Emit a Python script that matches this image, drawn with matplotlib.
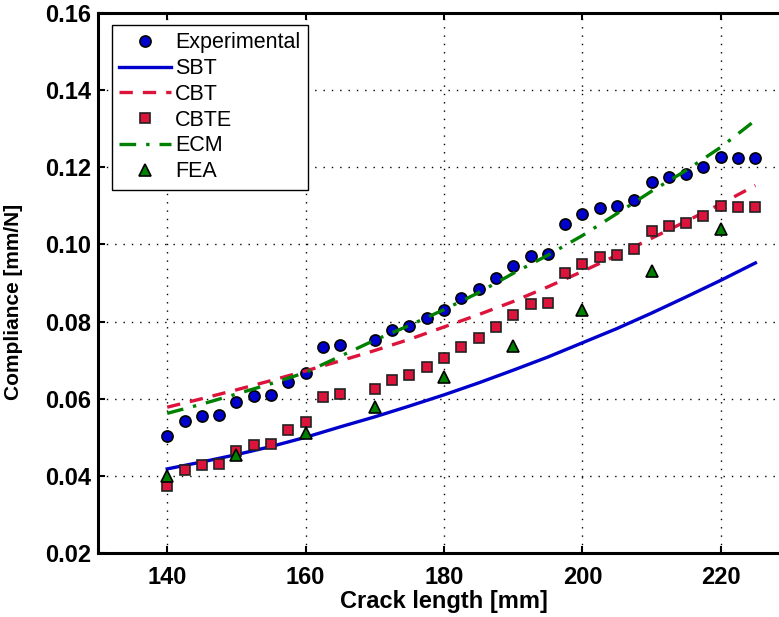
import matplotlib
matplotlib.use("Agg")
import matplotlib.pyplot as plt
import numpy as np

plt.rcParams['font.family'] = ['Liberation Sans', 'DejaVu Sans']

# Experimental / CBTE crack lengths (no point at 167.5)
meas_x = [140, 142.5, 145, 147.5, 150, 152.5, 155, 157.5, 160, 162.5, 165,
          170, 172.5, 175, 177.5, 180, 182.5, 185, 187.5, 190, 192.5, 195,
          197.5, 200, 202.5, 205, 207.5, 210, 212.5, 215, 217.5, 220, 222.5, 225]
exp_y = [0.0503, 0.0543, 0.0556, 0.0558, 0.0592, 0.0606, 0.0610, 0.0644, 0.0666,
         0.0733, 0.0740, 0.0752, 0.0777, 0.0788, 0.0809, 0.0830, 0.0861, 0.0885,
         0.0912, 0.0945, 0.0971, 0.0975, 0.1053, 0.1078, 0.1094, 0.1099, 0.1116,
         0.1162, 0.1175, 0.1182, 0.1200, 0.1227, 0.1224, 0.1224]
cbte_y = [0.0375, 0.0415, 0.0429, 0.0432, 0.0465, 0.0479, 0.0483, 0.0518, 0.0539,
          0.0604, 0.0613, 0.0624, 0.0649, 0.0662, 0.0682, 0.0705, 0.0733, 0.0758,
          0.0786, 0.0817, 0.0845, 0.0848, 0.0926, 0.0950, 0.0968, 0.0973, 0.0988,
          0.1035, 0.1048, 0.1055, 0.1073, 0.1100, 0.1096, 0.1096]

# model curves
model_x = [140, 145, 150, 155, 160, 165, 170, 175, 180, 185, 190, 195, 200,
           205, 210, 215, 220, 225]
sbt_y = [0.0418, 0.0436, 0.0455, 0.0476, 0.0500, 0.0527, 0.0553, 0.0581, 0.0610,
         0.0641, 0.0674, 0.0708, 0.0745, 0.0782, 0.0822, 0.0864, 0.0907, 0.0952]
cbt_y = [0.0578, 0.0600, 0.0623, 0.0647, 0.0672, 0.0698, 0.0725, 0.0754, 0.0786,
         0.0818, 0.0852, 0.0890, 0.0930, 0.0972, 0.1016, 0.1060, 0.1105, 0.1153]
ecm_y = [0.0562, 0.0586, 0.0612, 0.0639, 0.0668, 0.0710, 0.0752, 0.0790, 0.0831,
         0.0875, 0.0925, 0.0972, 0.1023, 0.1080, 0.1138, 0.1192, 0.1252, 0.1322]

# finite element results
fea_x = [140, 150, 160, 170, 180, 190, 200, 210, 220]
fea_y = [0.0400, 0.0455, 0.0512, 0.0578, 0.0657, 0.0736, 0.0831, 0.0931, 0.1041]

fig = plt.figure(figsize=(7.79, 6.17), dpi=100)
ax = fig.add_axes([98 / 779, 1 - 553 / 617, 692 / 779, 540 / 617])

ax.plot(meas_x, exp_y, 'o', color='#0000CC', mec='black', mew=1.2, ms=8,
        label='Experimental', zorder=3)
ax.plot(model_x, sbt_y, '-', color='#0000CC', lw=2.4, label='SBT', zorder=3)
ax.plot(model_x, cbt_y, '--', color='#DC143C', lw=2.4, dashes=(4, 3),
        label='CBT', zorder=3)
ax.plot(meas_x, cbte_y, 's', color='#DC143C', mec='#222222', mew=1.2, ms=6.5,
        label='CBTE', zorder=3)
ax.plot(model_x, ecm_y, '-.', color='#008000', lw=2.4, dashes=(5, 3, 1, 3),
        label='ECM', zorder=3)
ax.plot(fea_x, fea_y, '^', color='#008000', mec='black', mew=1.2, ms=9,
        label='FEA', zorder=3)

ax.set_xlim(130, 230)
ax.set_ylim(0.02, 0.16)
ax.set_xticks([140, 160, 180, 200, 220])
ax.set_yticks(np.arange(0.02, 0.161, 0.02))
ax.yaxis.set_major_formatter(matplotlib.ticker.FormatStrFormatter('%.2f'))

ax.grid(True, color='black', linestyle=(0, (1, 5)), linewidth=1.0)
ax.tick_params(direction='in', length=5, width=1.5, top=True, right=False)
ax.tick_params(axis='x', labelsize=17, pad=9)
ax.tick_params(axis='y', labelsize=17, pad=5)
for lab in ax.get_xticklabels() + ax.get_yticklabels():
    lab.set_fontweight('bold')
for sp in ax.spines.values():
    sp.set_linewidth(2.2)
ax.spines['right'].set_visible(False)

ax.set_xlabel('Crack length [mm]', fontsize=17, fontweight='bold', labelpad=1)
ax.set_ylabel('Compliance [mm/N]', fontsize=15, fontweight='bold')
ax.yaxis.set_label_coords(-0.108, 0.465)

leg = ax.legend(loc='upper left', bbox_to_anchor=(0.02, 0.978), fontsize=15.5,
                frameon=True, fancybox=False, edgecolor='black', framealpha=1,
                handlelength=2.4, labelspacing=0.22, borderpad=0.35,
                handletextpad=0.2, borderaxespad=0)
leg.get_frame().set_linewidth(1.0)

fig.savefig('out.png', dpi=100)
